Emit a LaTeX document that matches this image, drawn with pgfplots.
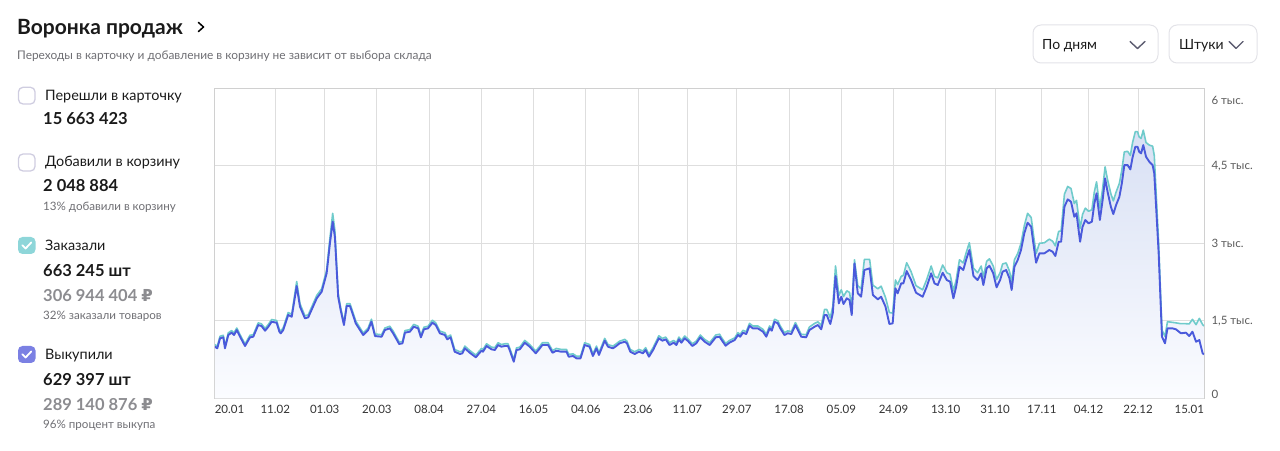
\documentclass[border=0pt]{standalone}
\usepackage{pgfplots}
\pgfplotsset{compat=1.18}
\usepackage{pgfplotstable}
\usepackage{fontspec}
\setmainfont{Lato}
\newfontfamily\rubfont{DejaVu Sans}

\definecolor{lineblue}{HTML}{4A5ADB}
\definecolor{lineteal}{HTML}{6FCBCB}
\definecolor{filltop}{HTML}{D8E0F4}
\definecolor{fillbot}{HTML}{FBFCFF}
\definecolor{gridc}{HTML}{DEDEDE}
\definecolor{framec}{HTML}{D0D0D0}
\definecolor{txt}{HTML}{1A1A1A}
\definecolor{subtxt}{HTML}{6E6E73}
\definecolor{rubtxt}{HTML}{8C8C90}
\definecolor{boxempty}{HTML}{CFCDE0}
\definecolor{boxteal}{HTML}{8ED6D9}
\definecolor{boxpurple}{HTML}{7B80E3}
\definecolor{ddborder}{HTML}{E3E3E8}
\definecolor{chev}{HTML}{5C5C70}

% day (0 = 20.01), выкупили, заказали
\pgfplotstableread{
d b t
0 1000 1040
0.9 967 1005
1.9 1161 1200
3.1 1180 1220
3.7 967 1005
4.9 1225 1265
6.1 1270 1310
7.0 1225 1265
8.0 1321 1360
9.2 1192 1230
11.0 1012 1050
12.8 1180 1220
14.0 1192 1230
15.8 1418 1460
17.0 1399 1440
18.3 1308 1350
19.5 1386 1430
20.7 1482 1525
22.5 1463 1505
23.5 1289 1330
24.0 1258 1300
24.9 1321 1365
26.7 1612 1660
28.0 1579 1625
29.8 2173 2260
31.0 1773 1830
32.8 1548 1595
34.0 1567 1615
35.2 1709 1760
37.1 1935 1990
38.9 2063 2120
40.7 2419 2480
41.9 3000 3100
42.9 3418 3580
43.7 3127 3250
44.9 1966 2030
45.8 1709 1760
47.0 1418 1460
48.0 1786 1830
49.2 1786 1830
50.1 1645 1690
51.3 1451 1495
54.0 1225 1265
55.8 1321 1360
57.0 1482 1530
58.3 1205 1245
60.7 1192 1230
61.9 1321 1360
63.7 1354 1395
64.9 1258 1300
67.1 1051 1090
68.3 1064 1100
69.2 1270 1310
71.0 1289 1330
72.4 1386 1430
74.0 1354 1395
75.0 1180 1220
76.1 1335 1375
77.6 1354 1395
79.2 1463 1510
80.4 1418 1460
81.9 1258 1300
83.7 1225 1270
84.6 1141 1185
85.8 1180 1225
87.3 902 945
89.2 857 900
90.1 871 915
91.0 967 1010
92.8 882 925
95.0 793 835
96.4 882 925
97.1 921 965
97.6 902 945
98.9 1012 1055
100.7 948 990
101.9 935 980
103.1 1031 1075
104.3 999 1040
105.5 1012 1055
106.7 1012 1055
107.3 935 975
108.8 708 750
109.8 935 975
111.0 948 990
112.8 1076 1120
114.6 999 1040
116.8 871 915
118.3 967 1010
119.2 1031 1075
121.3 1031 1075
122.9 882 925
124.3 921 965
126.1 902 945
128.0 902 945
128.8 805 850
130.4 818 860
131.6 774 815
133.1 774 815
134.6 1031 1075
136.4 999 1040
137.6 818 860
138.9 967 1010
139.8 838 880
141.9 1115 1160
143.1 999 1040
144.9 967 1010
146.1 1012 1055
147.3 1064 1105
149.2 1095 1140
150.0 1064 1105
151.2 902 945
152.8 857 900
154.4 902 945
155.8 871 915
156.8 935 980
158.0 805 850
159.5 935 980
161.6 1161 1210
162.9 1115 1160
164.1 1141 1185
165.5 1031 1075
167.0 1076 1120
168.0 1031 1075
168.9 1141 1185
169.8 1076 1120
171.0 1161 1205
172.2 1109 1150
173.8 1012 1055
175.2 1064 1105
176.7 1180 1225
178.3 1095 1140
180.1 1031 1075
182.3 1180 1225
183.7 1192 1240
184.3 1141 1185
185.9 1018 1060
187.3 1076 1120
189.2 1128 1170
190.4 1225 1270
191.2 1192 1235
192.2 1270 1315
193.4 1244 1290
194.6 1405 1450
195.8 1354 1400
197.6 1354 1400
199.5 1289 1335
200.7 1192 1240
201.9 1354 1400
202.7 1308 1355
203.7 1482 1530
204.9 1451 1500
205.8 1354 1400
207.3 1225 1270
208.5 1258 1305
209.8 1244 1290
211.3 1418 1465
212.2 1321 1370
213.4 1192 1240
215.2 1180 1230
216.4 1321 1380
218.3 1386 1450
219.5 1418 1480
220.7 1335 1410
221.9 1612 1720
222.7 1612 1720
224.0 1438 1560
224.9 1645 1780
225.9 2367 2560
227.1 1838 1990
228.0 1966 2100
228.8 1825 1970
230.0 1935 2080
231.0 1902 2050
231.8 1612 1760
232.8 2612 2680
234.0 2032 2180
235.2 1966 2120
236.4 2483 2690
238.3 2515 2690
239.5 1999 2190
241.3 1916 2120
242.5 1966 2170
244.1 1773 1950
245.5 1438 1660
246.7 1451 1650
247.7 2128 2290
248.5 2032 2200
249.8 2225 2360
250.6 2225 2380
251.8 2463 2624
253.4 2289 2450
255.2 2043 2180
257.6 1966 2100
259.1 2160 2300
260.7 2419 2560
261.9 2225 2360
263.1 2192 2330
264.9 2430 2580
266.4 2289 2430
267.6 2256 2400
268.8 1935 2080
269.8 2160 2290
271.0 2547 2680
272.4 2483 2620
273.4 2676 2810
274.6 2870 3011
276.1 2367 2520
277.6 2289 2430
278.9 2419 2560
279.7 2192 2350
280.9 2515 2650
281.9 2566 2700
283.3 2419 2560
284.5 2148 2300
285.8 2289 2430
286.7 2450 2600
288.0 2483 2620
289.2 2322 2460
290.0 2096 2260
291.0 2547 2680
292.2 2676 2800
293.4 2870 3000
294.6 3193 3340
295.8 3398 3580
297.1 3320 3500
297.9 3000 3180
298.9 2624 2800
300.1 2806 3000
301.9 2806 3010
303.7 2870 3080
304.9 2837 3040
305.9 2754 2950
307.1 3030 3230
308.0 3030 3240
309.2 3708 3950
310.4 3850 4100
311.6 3804 4060
312.8 3514 3770
313.6 3580 3830
314.9 3030 3290
315.8 3320 3560
316.8 3450 3680
318.0 3386 3620
319.2 3418 3650
320.1 3773 4000
320.9 3967 4190
322.1 3450 3680
323.1 3837 4060
324.0 4257 4480
324.9 3998 4230
326.1 3708 3960
327.0 3566 3820
328.0 3740 3990
329.2 3901 4160
330.1 4160 4420
331.0 4514 4770
332.2 4514 4780
333.2 4431 4700
334.0 4663 4950
335.0 4868 5160
335.8 4868 5160
336.4 4772 5060
337.1 4740 5030
337.9 4901 5190
338.9 4675 4950
340.1 4578 4900
341.3 4514 4880
341.9 4354 4700
343.5 2806 3000
344.7 1192 1321
345.8 1064 1200
346.7 1354 1483
348.5 1354 1470
349.8 1335 1460
351.6 1258 1444
353.4 1270 1444
354.6 1205 1440
355.8 1289 1528
357.1 1095 1425
358.3 1128 1547
359.5 871 1425
360 850 1400
}\funnel

\begin{document}
\begin{tikzpicture}
\path[use as bounding box] (0pt,0pt) rectangle (1280pt,450pt);

\begin{axis}[
  at={(214.8pt,51.7pt)}, anchor=south west,
  width=989.2pt, height=310pt, scale only axis,
  xmin=0, xmax=360, ymin=0, ymax=6000,
  xtick={0,22,40,59,78,97,116,135,154,172,190,209,228,247,266,284,301,318,336,360},
  xticklabels={\makebox[0pt][l]{20.01},11.02,01.03,20.03,08.04,27.04,16.05,04.06,23.06,11.07,29.07,17.08,05.09,24.09,13.10,31.10,17.11,04.12,22.12,\makebox[0pt][r]{15.01}},
  ytick={1500,3000,4500},
  yticklabels={{1,5 тыс.},{3 тыс.},{4,5 тыс.}},
  extra y ticks={83,5772},
  extra y tick labels={0,{6 тыс.}},
  extra y tick style={grid=none},
  yticklabel pos=right,
  xmajorgrids, ymajorgrids,
  grid style={gridc, line width=0.9pt},
  axis line style={framec, line width=0.9pt},
  major tick length=0pt,
  tick label style={font=\fontsize{11.5}{13}\selectfont},
  xticklabel style={text=black!80, yshift=-3pt},
  yticklabel style={anchor=west, xshift=4pt, text=black!65},
]
\addplot[draw=none, top color=filltop, bottom color=fillbot] table[x=d, y=t] {\funnel} \closedcycle;
\addplot[lineteal, line width=1.6pt, line join=round] table[x=d, y=t] {\funnel};
\addplot[lineblue, line width=1.9pt, line join=round] table[x=d, y=b] {\funnel};
\end{axis}

\begin{scope}[x=1pt, y=1pt, every node/.style={inner sep=0pt, anchor=base west}]
% header
\node[text=txt] at (17,415) {\fontsize{21}{24}\selectfont\bfseries Воронка продаж};
\draw[black, line width=1.5pt, line cap=round, line join=round] (198.5,427.5) -- (203.5,423) -- (198.5,418.5);
\node[text=subtxt] at (17,390) {\fontsize{11.9}{13}\selectfont Переходы в карточку и добавление в корзину не зависит от выбора склада};

% dropdowns
\draw[ddborder, fill=white, line width=1pt, rounded corners=8pt] (1033,387) rectangle (1158,425);
\node[text=txt] at (1042,400) {\fontsize{14}{16}\selectfont По дням};
\draw[chev, line width=1.4pt, line cap=round, line join=round] (1130,408.5) -- (1137.5,401.5) -- (1145,408.5);
\draw[ddborder, fill=white, line width=1pt, rounded corners=8pt] (1169,387) rectangle (1257,425);
\node[text=txt] at (1179,400) {\fontsize{14}{16}\selectfont Штуки};
\draw[chev, line width=1.4pt, line cap=round, line join=round] (1229,408.5) -- (1236,401.5) -- (1243,408.5);

% legend block 1
\draw[boxempty, line width=1.3pt, rounded corners=4.5pt] (18.5,346) rectangle (35,362.7);
\node[text=txt] at (45,349) {\fontsize{14.4}{17}\selectfont Перешли в карточку};
\node[text=txt] at (43,325) {\fontsize{16.5}{18}\selectfont\bfseries 15 663 423};

% legend block 2
\draw[boxempty, line width=1.3pt, rounded corners=4.5pt] (18.5,279) rectangle (35,296);
\node[text=txt] at (45,283.5) {\fontsize{14.4}{17}\selectfont Добавили в корзину};
\node[text=txt] at (43,258) {\fontsize{16.5}{18}\selectfont\bfseries 2 048 884};
\node[text=subtxt] at (43,239) {\fontsize{11.6}{13}\selectfont 13\% добавили в корзину};

% legend block 3
\fill[boxteal, rounded corners=4.5pt] (18,196) rectangle (35.5,213);
\draw[white, line width=1.8pt, line cap=round, line join=round] (22.3,204.8) -- (25.6,201.5) -- (31.3,207.6);
\node[text=txt] at (45,199.5) {\fontsize{14.4}{17}\selectfont Заказали};
\node[text=txt] at (43,173.5) {\fontsize{16.5}{18}\selectfont\bfseries 663 245 шт};
\node[text=rubtxt] at (43,148.5) {\fontsize{16.5}{18}\selectfont\bfseries 306 944 404 {\rubfont ₽}};
\node[text=subtxt] at (43,130.5) {\fontsize{11.6}{13}\selectfont 32\% заказали товаров};

% legend block 4
\fill[boxpurple, rounded corners=4.5pt] (18,87) rectangle (35.5,104);
\draw[white, line width=1.8pt, line cap=round, line join=round] (22.3,95.8) -- (25.6,92.5) -- (31.3,98.6);
\node[text=txt] at (45,90) {\fontsize{14.4}{17}\selectfont Выкупили};
\node[text=txt] at (43,64) {\fontsize{16.5}{18}\selectfont\bfseries 629 397 шт};
\node[text=rubtxt] at (43,40) {\fontsize{16.5}{18}\selectfont\bfseries 289 140 876 {\rubfont ₽}};
\node[text=subtxt] at (43,22) {\fontsize{11.6}{13}\selectfont 96\% процент выкупа};
\end{scope}
\end{tikzpicture}
\end{document}
